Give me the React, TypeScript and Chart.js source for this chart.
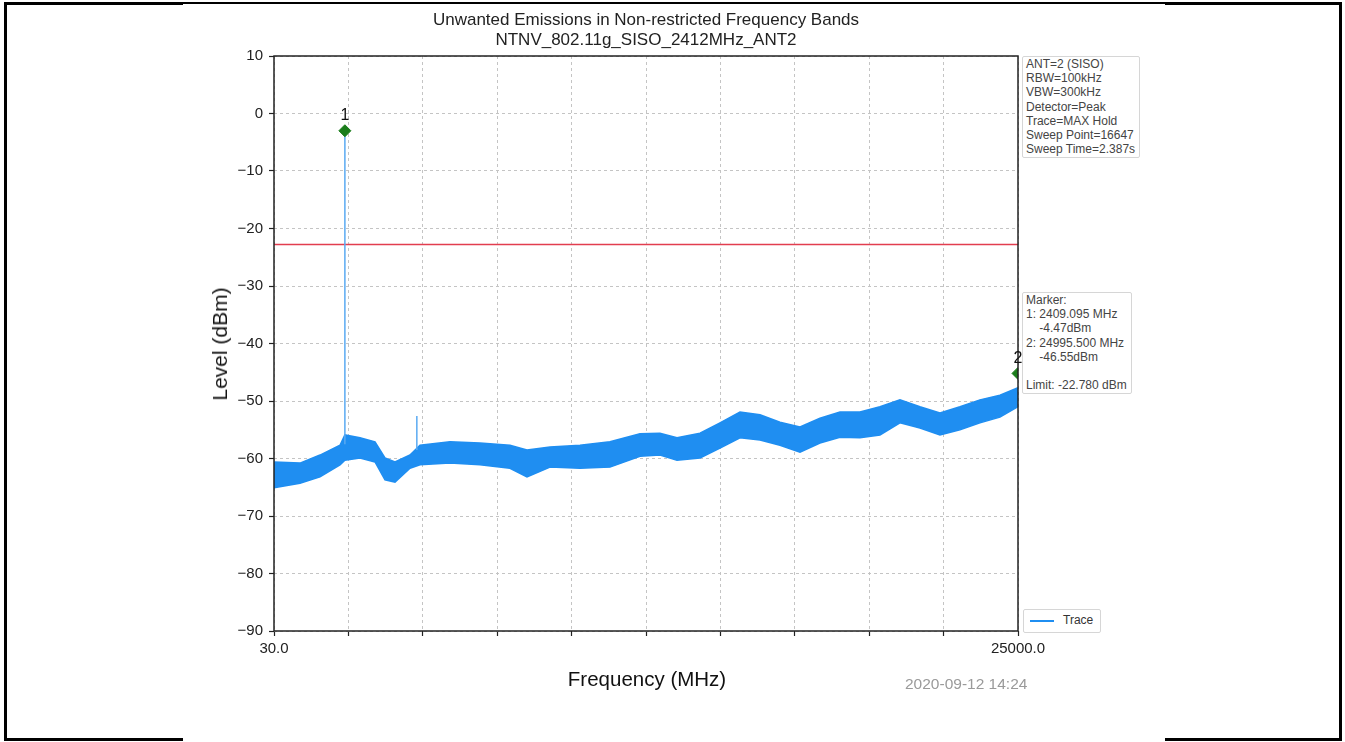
import React, { useEffect, useRef } from "react";
import { Chart, registerables } from "chart.js";

Chart.register(...registerables);

// Frequency (MHz) sample points of the trace envelope
const freqs = [30, 902, 1574, 2245, 2409, 2916, 3420, 3755, 4091, 4594, 4930, 5937, 6943, 7950, 8521, 9293, 10300, 11306, 12313, 12984, 13555, 14327, 14998, 15670, 16341, 17012, 17683, 18354, 19025, 19696, 20367, 21039, 21710, 22381, 23052, 23723, 24394, 25000];
// upper edge of the noisy trace band (dBm)
const upperLevels = [-60.6, -60.8, -59.4, -57.7, -55.9, -56.4, -57.1, -59.9, -60.6, -59.4, -57.7, -57.1, -57.3, -57.7, -58.5, -58.0, -57.7, -57.1, -55.7, -55.6, -56.4, -55.6, -53.8, -51.9, -52.4, -53.7, -54.5, -53.0, -51.9, -51.9, -51.0, -49.8, -51.0, -52.1, -51.0, -49.8, -49.0, -47.7];
// lower edge of the noisy trace band (dBm)
const lowerLevels = [-65.1, -64.3, -63.2, -61.1, -60.3, -59.9, -60.6, -63.7, -64.1, -61.7, -61.1, -60.8, -61.1, -61.7, -63.2, -61.5, -61.7, -61.5, -59.6, -59.4, -60.3, -59.9, -58.2, -56.4, -56.8, -57.7, -58.9, -57.3, -56.3, -56.4, -55.9, -53.8, -54.7, -55.9, -55.0, -53.8, -52.8, -51.0];

// narrow spurs in the trace: [frequency, base level, peak level]
const spurFreqs = [2409, 4824];
const spurBase = [-57.5, -58.5];
const spurPeak = [-3.0, -52.6];

// markers
const markerLabels = ["1", "2"];
const markerFreqs = [2409, 25000];
const markerLevels = [-3.0, -45.2];

const limitLevel = -22.78;
const xMin = 30;
const xMax = 25000;
const xDivisions = 10;
const yTicks = [10, 0, -10, -20, -30, -40, -50, -60, -70, -80, -90];

const infoLines = ["ANT=2 (SISO)", "RBW=100kHz", "VBW=300kHz", "Detector=Peak", "Trace=MAX Hold", "Sweep Point=16647", "Sweep Time=2.387s"];
const markerLines = ["Marker:", "1: 2409.095 MHz", "\u00a0\u00a0\u00a0\u00a0-4.47dBm", "2: 24995.500 MHz", "\u00a0\u00a0\u00a0\u00a0-46.55dBm", "\u00a0", "Limit: -22.780 dBm"];

const TRACE = "#1f8ef1";
const FONT = "'Liberation Sans', Arial, sans-serif";

const framePlugin = {
  id: "frameAndLabels",
  afterDatasetsDraw(chart: any) {
    const { ctx, chartArea } = chart;
    const { left, top, right, bottom } = chartArea;
    ctx.save();
    ctx.strokeStyle = "#222";
    ctx.lineWidth = 1.5;
    ctx.strokeRect(left, top, right - left, bottom - top);
    const xs = chart.scales.x;
    const ys = chart.scales.y;
    ctx.fillStyle = "#111";
    ctx.font = `16px ${FONT}`;
    ctx.textAlign = "center";
    ctx.textBaseline = "middle";
    markerFreqs.forEach((f, i) => {
      ctx.fillText(markerLabels[i], xs.getPixelForValue(f), ys.getPixelForValue(markerLevels[i]) - 15);
    });
    ctx.restore();
  },
};

export default function App() {
  const ref = useRef<HTMLCanvasElement | null>(null);

  useEffect(() => {
    if (!ref.current) return;
    const upper = freqs.map((f, i) => ({ x: f, y: upperLevels[i] }));
    const lower = freqs.map((f, i) => ({ x: f, y: lowerLevels[i] }));
    const spurSets = spurFreqs.map((f, i) => ({
      type: "line" as const,
      data: [{ x: f, y: spurBase[i] }, { x: f, y: spurPeak[i] }],
      borderColor: "#5aaaf2",
      borderWidth: 1.5,
      pointRadius: 0,
      order: 1,
    }));
    const chart = new Chart(ref.current, {
      type: "line",
      data: {
        datasets: [
          {
            data: upper,
            borderColor: TRACE,
            backgroundColor: TRACE,
            borderWidth: 1.5,
            pointRadius: 0,
            fill: "+1",
            order: 2,
          },
          {
            data: lower,
            borderColor: TRACE,
            borderWidth: 1.5,
            pointRadius: 0,
            fill: false,
            order: 2,
          },
          ...spurSets,
          {
            data: [{ x: xMin, y: limitLevel }, { x: xMax, y: limitLevel }],
            borderColor: "#e23d4f",
            borderWidth: 1.3,
            pointRadius: 0,
            order: 3,
          },
          {
            data: markerFreqs.map((f, i) => ({ x: f, y: markerLevels[i] })),
            showLine: false,
            pointStyle: "rectRot",
            pointRadius: 6,
            pointBackgroundColor: "#1b7d1b",
            pointBorderColor: "#1b7d1b",
            order: 0,
          },
        ],
      },
      options: {
        responsive: false,
        animation: false,
        devicePixelRatio: 1,
        layout: { padding: { left: 183, right: 327, top: 56, bottom: 81 } },
        plugins: {
          legend: { display: false },
          tooltip: { enabled: false },
          title: { display: false },
        },
        scales: {
          x: {
            type: "linear",
            min: xMin,
            max: xMax,
            afterBuildTicks: (scale: any) => {
              const step = (xMax - xMin) / xDivisions;
              const t = [];
              for (let k = 0; k <= xDivisions; k++) t.push({ value: xMin + k * step });
              scale.ticks = t;
            },
            afterFit: (scale: any) => {
              scale.height = 30;
            },
            ticks: {
              autoSkip: false,
              maxRotation: 0,
              padding: 4,
              color: "#222",
              font: { family: FONT, size: 15 },
              callback: (v: any, i: number, arr: any[]) =>
                i === 0 || i === arr.length - 1 ? Number(v).toFixed(1) : "",
            },
            grid: {
              color: "#c4c4c4",
              lineWidth: 1,
              tickLength: 5,
              tickColor: "#222",
              tickBorderDash: [],
              tickWidth: 1.2,
            },
            border: { display: false, dash: [3, 3] },
          },
          y: {
            type: "linear",
            min: -90,
            max: 10,
            afterBuildTicks: (scale: any) => {
              scale.ticks = yTicks.map((v) => ({ value: v }));
            },
            afterFit: (scale: any) => {
              scale.width = 91;
            },
            ticks: {
              padding: 6,
              color: "#222",
              font: { family: FONT, size: 15 },
              callback: (v: any) => String(v).replace("-", "\u2212"),
            },
            grid: {
              color: "#c4c4c4",
              lineWidth: 1,
              tickLength: 5,
              tickColor: "#222",
              tickBorderDash: [],
              tickWidth: 1.2,
            },
            border: { display: false, dash: [3, 3] },
          },
        },
      },
      plugins: [framePlugin],
    } as any);
    return () => chart.destroy();
  }, []);

  const boxStyle: React.CSSProperties = {
    position: "absolute",
    border: "1px solid #d6d6d6",
    borderRadius: 2,
    background: "#fff",
    fontFamily: FONT,
    fontSize: 12,
    lineHeight: "14.2px",
    color: "#444",
    padding: "0px 4px 1px 3px",
    whiteSpace: "nowrap",
  };

  return (
    <div style={{ position: "absolute", left: 0, top: 0, width: 1345, height: 742, background: "#fff", overflow: "hidden" }}>
      <div style={{ position: "absolute", left: 4, top: 2, width: 1332, height: 733, border: "3px solid #000" }} />
      <div style={{ position: "absolute", left: 183, top: 4, width: 982, height: 738, background: "#fff" }} />
      <canvas ref={ref} width={1345} height={742} style={{ position: "absolute", left: 0, top: 0, width: 1345, height: 742 }} />
      <div style={{ position: "absolute", left: 274, width: 744, top: 10, textAlign: "center", fontFamily: FONT, fontSize: 17, lineHeight: "20px", color: "#222" }}>
        <div>Unwanted Emissions in Non-restricted Frequency Bands</div>
        <div>NTNV_802.11g_SISO_2412MHz_ANT2</div>
      </div>
      <div style={{ position: "absolute", left: 220, top: 344, transform: "translate(-50%, -50%) rotate(-90deg)", fontFamily: FONT, fontSize: 21, color: "#111", whiteSpace: "nowrap" }}>
        Level (dBm)
      </div>
      <div style={{ position: "absolute", left: 274, width: 746, top: 667, textAlign: "center", fontFamily: FONT, fontSize: 20.5, color: "#111" }}>
        Frequency (MHz)
      </div>
      <div style={{ position: "absolute", left: 905, top: 675, fontFamily: FONT, fontSize: 15.5, color: "#9a9a9a", whiteSpace: "nowrap" }}>
        2020-09-12 14:24
      </div>
      <div style={{ ...boxStyle, left: 1022, top: 56 }}>
        {infoLines.map((t, i) => (
          <div key={i}>{t}</div>
        ))}
      </div>
      <div style={{ ...boxStyle, left: 1022, top: 292 }}>
        {markerLines.map((t, i) => (
          <div key={i}>{t}</div>
        ))}
      </div>
      <div style={{ ...boxStyle, left: 1023, top: 609, width: 76, height: 22, padding: 0 }}>
        <div style={{ position: "absolute", left: 6, top: 10, width: 24, height: 2, background: TRACE }} />
        <div style={{ position: "absolute", left: 39, top: 3, fontSize: 12, color: "#333" }}>Trace</div>
      </div>
    </div>
  );
}
